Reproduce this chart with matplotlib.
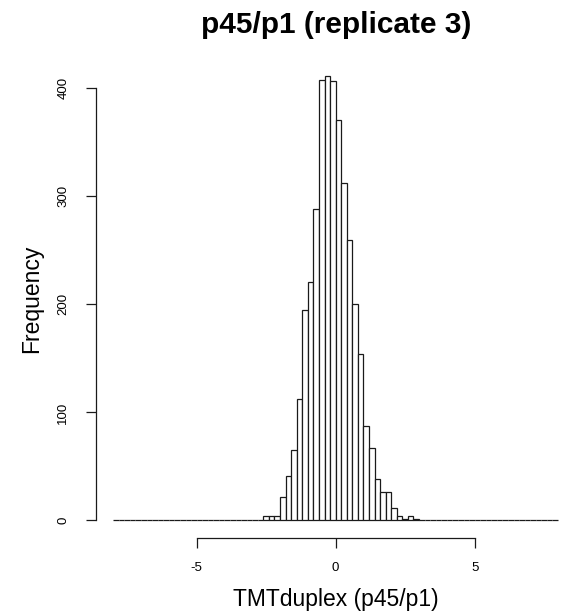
import numpy as np
import matplotlib
matplotlib.use("Agg")
import matplotlib.pyplot as plt

plt.rcParams['font.family'] = ['Liberation Sans', 'DejaVu Sans']

# histogram breaks (width 0.2) and counts of the occupied bins
breaks = np.round(np.arange(-8.0, 8.0001, 0.2), 1)
first_occupied = -2.6
occupied_counts = [4, 4, 4, 22, 41, 65, 112, 195, 221, 288, 408, 411, 407,
                   371, 312, 260, 200, 154, 87, 67, 38, 26, 26, 12, 4, 1, 4, 1]

counts = np.zeros(len(breaks) - 1)
start = int(np.argmin(np.abs(breaks - first_occupied)))
counts[start:start + len(occupied_counts)] = occupied_counts

x_ticks = [-5, 0, 5]
y_ticks = [0, 100, 200, 300, 400]

W, H = 565, 616
fig = plt.figure(figsize=(W / 100, H / 100), dpi=100)
ax = fig.add_axes([95.7 / W, (H - 538.2) / H, (W - 95.7) / W, (538.2 - 58.7) / H])

ax.bar(breaks[:-1], counts, width=np.diff(breaks), align='edge',
       facecolor='white', edgecolor='#1a1a1a', linewidth=0.9)

ax.set_xlim(-8.63, 8.25)
ax.set_ylim(-16.4, 427.4)

for side in ['top', 'right']:
    ax.spines[side].set_visible(False)
ax.spines['left'].set_bounds(0, 400)
ax.spines['bottom'].set_bounds(-5, 5)
for side in ['left', 'bottom']:
    ax.spines[side].set_linewidth(0.9)
    ax.spines[side].set_color('#1a1a1a')

ax.set_xticks(x_ticks)
ax.set_xticklabels([str(v) for v in x_ticks])
ax.set_yticks(y_ticks)
ax.set_yticklabels([str(v) for v in y_ticks], rotation=90, va='center')
ax.tick_params(axis='both', direction='out', length=7, width=0.9,
               color='#1a1a1a', labelsize=9.5)
ax.tick_params(axis='x', pad=10)
ax.tick_params(axis='y', pad=12)

fig.text(335.7 / W, 1 - 33 / H, 'p45/p1 (replicate 3)', ha='center',
         va='baseline', fontsize=21.5, fontweight='bold')
fig.text(335.7 / W, 1 - 606 / H, 'TMTduplex (p45/p1)', ha='center',
         va='baseline', fontsize=16.5)
fig.text(32 / W, 1 - 298.5 / H, 'Frequency', ha='center', va='center',
         rotation=90, fontsize=16.5)

fig.savefig('out.png', dpi=100)
